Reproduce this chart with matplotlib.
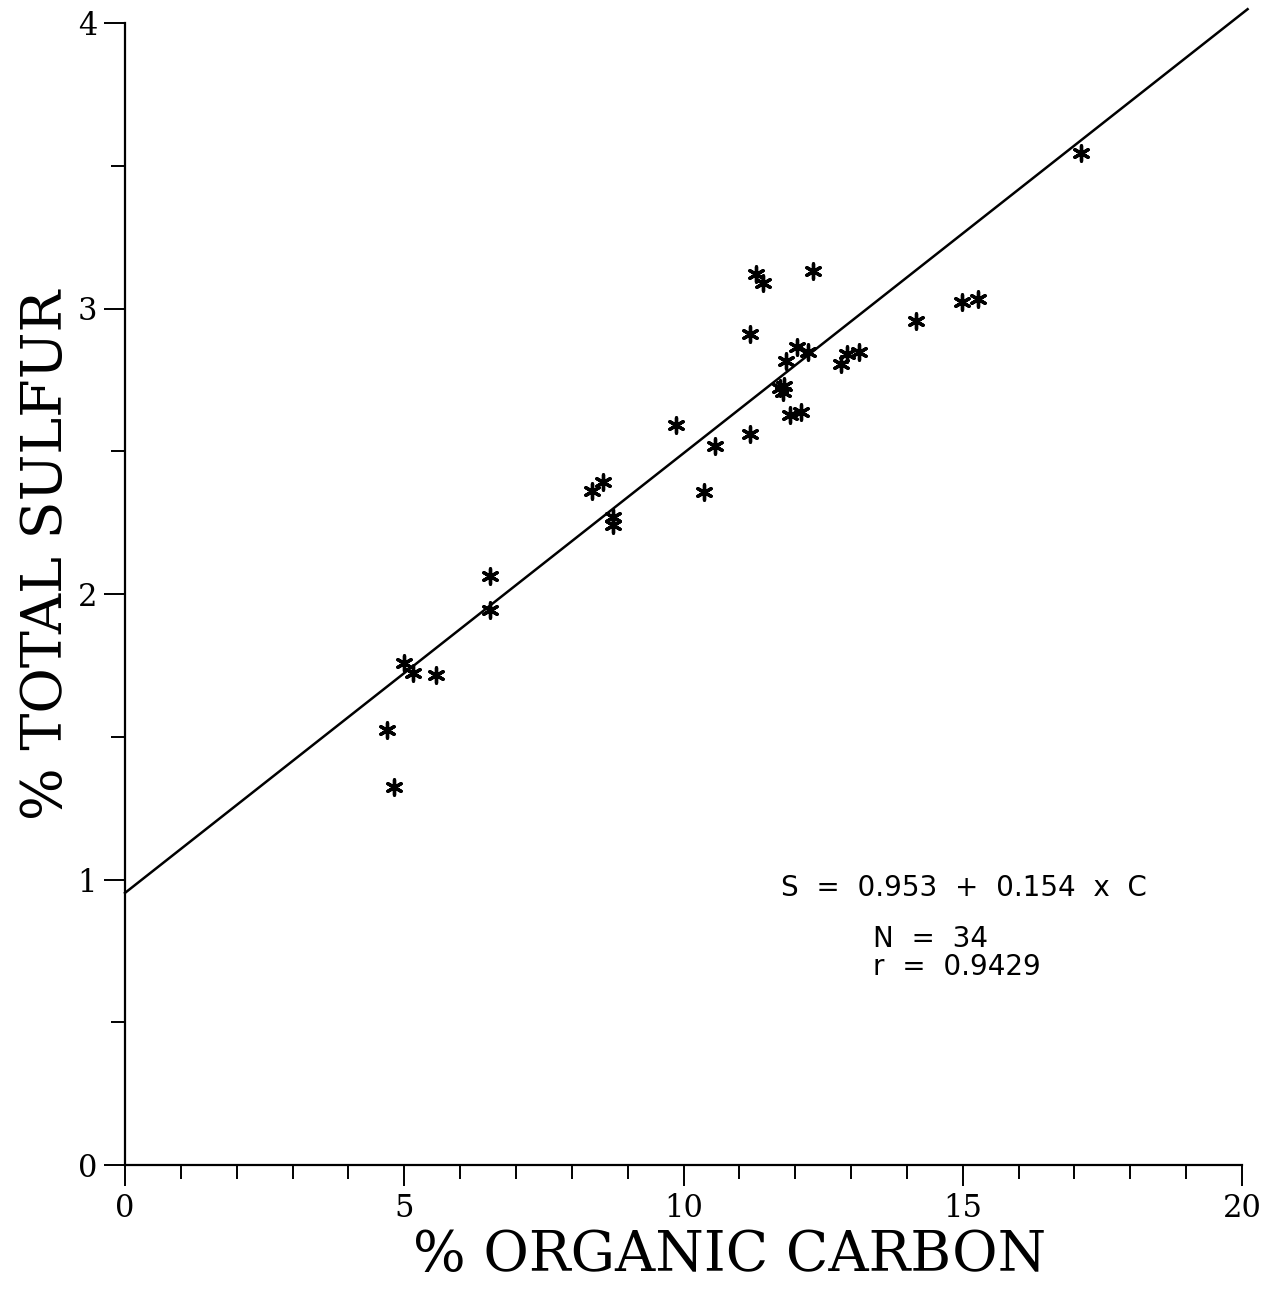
import numpy as np
import matplotlib
matplotlib.use('Agg')
import matplotlib.pyplot as plt
from matplotlib.ticker import MultipleLocator

# % organic carbon vs % total sulfur
carbon = [4.69, 4.82, 5.00, 5.16, 5.57, 6.54, 6.54, 8.36, 8.56, 8.74,
          8.74, 9.87, 10.37, 10.56, 11.19, 11.19, 11.30, 11.42, 12.32, 11.84,
          12.03, 12.23, 11.73, 11.80, 11.78, 11.91, 12.10, 12.82, 12.93, 13.14,
          14.16, 14.99, 15.27, 17.12]
sulfur = [1.524, 1.324, 1.758, 1.723, 1.716, 2.063, 1.944, 2.361, 2.392, 2.270,
          2.242, 2.592, 2.357, 2.518, 2.911, 2.560, 3.121, 3.089, 3.131, 2.816,
          2.865, 2.848, 2.722, 2.729, 2.708, 2.627, 2.637, 2.806, 2.841, 2.848,
          2.956, 3.023, 3.033, 3.545]

# regression S = a + b*C
intercept = 0.953
slope = 0.154
fit_x = [0, 20.1]

x_ticks = [0, 5, 10, 15, 20]
y_ticks = [0, 1, 2, 3, 4]

fig = plt.figure(figsize=(12.68, 12.91), dpi=100)
ax = fig.add_axes([125/1268, 1 - 1165/1291, (1242-125)/1268, (1165-23)/1291])

ax.scatter(carbon, sulfur, marker=(6, 2, 0), s=120, c='k', linewidths=2.4, zorder=3)
ax.plot(fit_x, [intercept + slope*x for x in fit_x], color='k', lw=1.8, clip_on=False)

ax.set_xlim(0, 20)
ax.set_ylim(0, 4)
ax.spines['top'].set_visible(False)
ax.spines['right'].set_visible(False)
for sp in ['left', 'bottom']:
    ax.spines[sp].set_linewidth(1.6)

ax.set_xticks(x_ticks)
ax.set_yticks(y_ticks)
ax.xaxis.set_minor_locator(MultipleLocator(1))
ax.yaxis.set_minor_locator(MultipleLocator(0.5))
ax.tick_params(which='major', direction='out', length=15, width=1.4, color='k')
ax.tick_params(which='minor', direction='out', length=10, width=1.4, color='k')
ax.tick_params(axis='x', which='major', pad=5)
ax.tick_params(axis='y', which='major', pad=5)
for lab in ax.get_xticklabels() + ax.get_yticklabels():
    lab.set_family('DejaVu Serif')
    lab.set_fontsize(22)

ax.set_xlabel('% ORGANIC CARBON', family='DejaVu Serif', fontsize=40)
ax.xaxis.set_label_coords((730-125)/1117, -(1228-1165)/1142)
ax.set_ylabel('% TOTAL SULFUR', family='DejaVu Serif', fontsize=40)
ax.yaxis.set_label_coords(-(125-74)/1117, (1165-555)/1142)

ax.text(11.75, 0.97, 'S  =  0.953  +  0.154  x  C', family='DejaVu Sans',
        fontsize=20, ha='left', va='center')
ax.text(13.4, 0.79, 'N  =  34', family='DejaVu Sans', fontsize=20, ha='left', va='center')
ax.text(13.4, 0.695, 'r  =  0.9429', family='DejaVu Sans', fontsize=20, ha='left', va='center')

fig.savefig('out.png', dpi=100, facecolor='white')
